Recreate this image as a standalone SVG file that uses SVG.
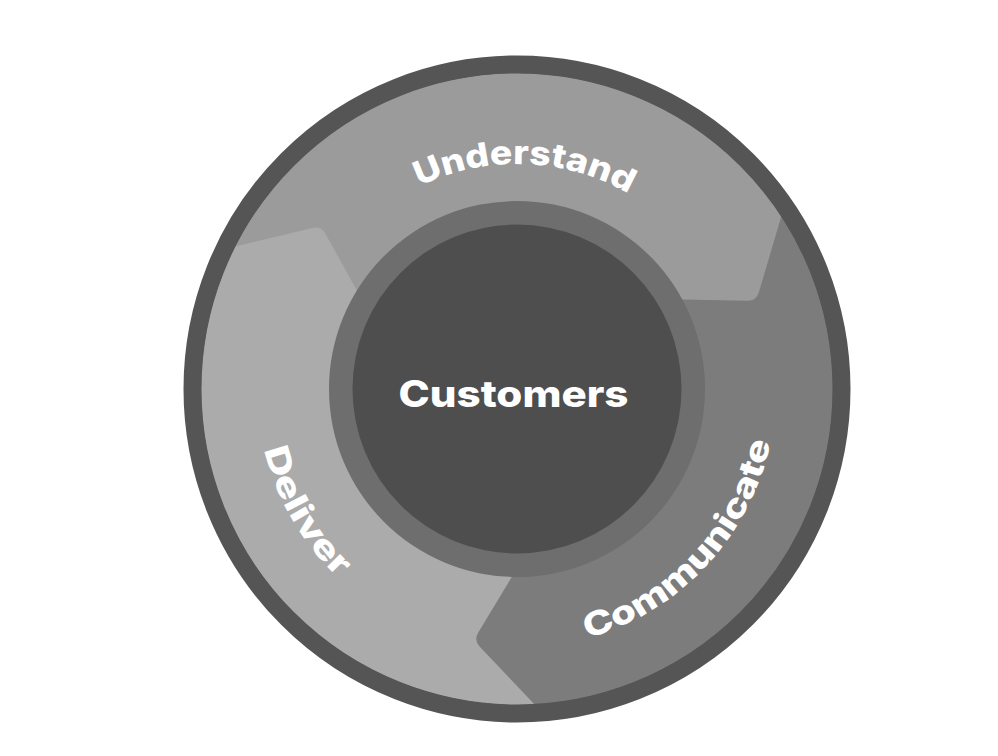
<svg xmlns="http://www.w3.org/2000/svg" width="998" height="756" viewBox="0 0 998 756">
<style>
.lbl{font-family:Inter,"Open Sans","DejaVu Sans",sans-serif;font-weight:800;fill:#ffffff;}
.und{fill:#9b9b9b}
.com{fill:#7c7c7c}
.del{fill:#ababab}
</style>
<defs>
<path id="pU" d="M 378.48 211.70 A 225 225 0 0 1 667.55 221.79"/>
<path id="pC" d="M 526.04 647.84 A 259 259 0 0 0 775.84 379.96"/>
<path id="pD" d="M 260.95 343.85 A 260 260 0 0 0 428.07 633.32"/>
</defs>
<rect x="0" y="0" width="998" height="756" fill="#ffffff"/>
<g id="ring">
<circle cx="517" cy="389" r="324" fill="#555555"/>
</g>
<g id="segments">
<g id="understand">
<path class="und" d="M 234.94 246.52 A 316 316 0 0 1 781.42 215.97 L 743.80 272.45 L 681.18 299.49 A 187 187 0 0 0 357.39 291.57 L 302.65 250.86 Z"/>
</g>
<g id="communicate">
<path class="com" d="M 781.42 215.97 A 316 316 0 0 1 534.64 704.51 L 504.54 643.70 L 512.43 575.94 A 187 187 0 0 0 681.18 299.49 L 743.80 272.45 Z"/>
</g>
<g id="deliver">
<path class="del" d="M 534.64 704.51 A 316 316 0 0 1 234.94 246.52 L 302.65 250.86 L 357.39 291.57 A 187 187 0 0 0 512.43 575.94 L 504.54 643.70 Z"/>
</g>
<g id="heads">
<path class="com" d="M 534.64 704.51 L 479.80 646.80 Q 473.60 640.28 478.25 632.57 L 512.43 575.94 L 537.20 574.91 L 551.13 703.15 Z"/>
<path class="del" d="M 234.94 246.52 L 312.34 227.88 Q 321.09 225.77 325.44 233.65 L 357.39 291.57 L 345.90 313.54 L 227.87 261.48 Z"/>
<path class="und" d="M 781.42 215.97 L 758.87 292.32 Q 756.32 300.95 747.32 300.78 L 681.18 299.49 L 667.90 278.56 L 772.00 202.37 Z"/>
</g>
</g>
<g id="outer-ring">
<circle cx="517" cy="389" r="324.5" fill="none" stroke="#555555" stroke-width="18"/>
</g>
<g id="customers">
<circle cx="517" cy="389" r="188" fill="#6e6e6e"/>
<circle cx="517" cy="389" r="164.5" fill="#4e4e4e"/>
<text class="lbl" x="513.5" y="407" font-size="37" text-anchor="middle" textLength="230" lengthAdjust="spacingAndGlyphs">Customers</text>
</g>
<g id="labels">
<text class="lbl" font-size="33"><textPath href="#pU" startOffset="50%" text-anchor="middle" textLength="218" lengthAdjust="spacingAndGlyphs">Understand</textPath></text>
<text class="lbl" font-size="33"><textPath href="#pC" startOffset="50%" text-anchor="middle" textLength="282" lengthAdjust="spacingAndGlyphs">Communicate</textPath></text>
<text class="lbl" font-size="33"><textPath href="#pD" startOffset="50%" text-anchor="middle" textLength="150" lengthAdjust="spacingAndGlyphs">Deliver</textPath></text>
</g>
</svg>
